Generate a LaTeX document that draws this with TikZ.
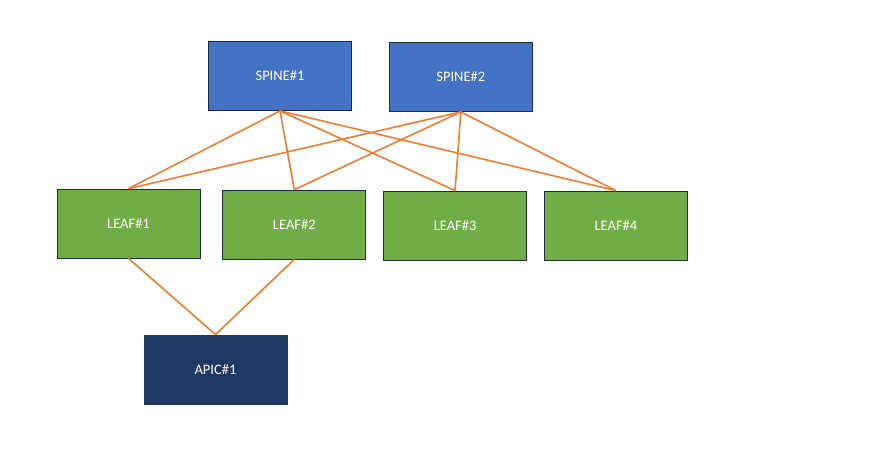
\documentclass[tikz,border=0pt]{standalone}
\usepackage{fontspec}
\setmainfont{Carlito}
\usepackage{xcolor}
\usetikzlibrary{positioning}

\definecolor{spineblue}{HTML}{4472C4}
\definecolor{leafgreen}{HTML}{70AD47}
\definecolor{apicnavy}{HTML}{203864}
\definecolor{linkorange}{HTML}{ED7D31}
\definecolor{edgedark}{HTML}{1A2E40}

\begin{document}
\begin{tikzpicture}[
        x=1pt, y=-1pt,
        node distance=20pt and 20pt,
        box/.style={rectangle, draw=edgedark, line width=0.8pt, text=white, font=\fontsize{14.5}{16}\selectfont, minimum width=143pt, minimum height=69pt, inner sep=0pt},
        spine/.style={box, fill=spineblue},
        leaf/.style={box, fill=leafgreen},
        apic/.style={box, fill=apicnavy, draw=apicnavy},
        link/.style={draw=linkorange, line width=1.6pt}
    ]
    \useasboundingbox (0,0) rectangle (870,476);

    % Nodes
    \node (spine1) [spine] at (280,76) {SPINE\#1};
    \node (spine2) [spine, right=37pt of spine1, yshift=-1pt] {SPINE\#2};
    \node (leaf1) [leaf] at (128.5,223.5) {LEAF\#1};
    \node (leaf2) [leaf, right=22pt of leaf1, yshift=-1pt] {LEAF\#2};
    \node (leaf3) [leaf, right=17pt of leaf2, yshift=-1pt] {LEAF\#3};
    \node (leaf4) [leaf, right=17pt of leaf3] {LEAF\#4};
    \node (apic1) [apic] at (215.5,369.5) {APIC\#1};

    % Links
    \foreach \s in {spine1, spine2}
        \foreach \l in {leaf1, leaf2, leaf3, leaf4}
            \draw [link] (\s.south) -- (\l.north);
    \draw [link] (leaf1.south) -- (apic1.north);
    \draw [link] (leaf2.south) -- (apic1.north);

\end{tikzpicture}
\end{document}
